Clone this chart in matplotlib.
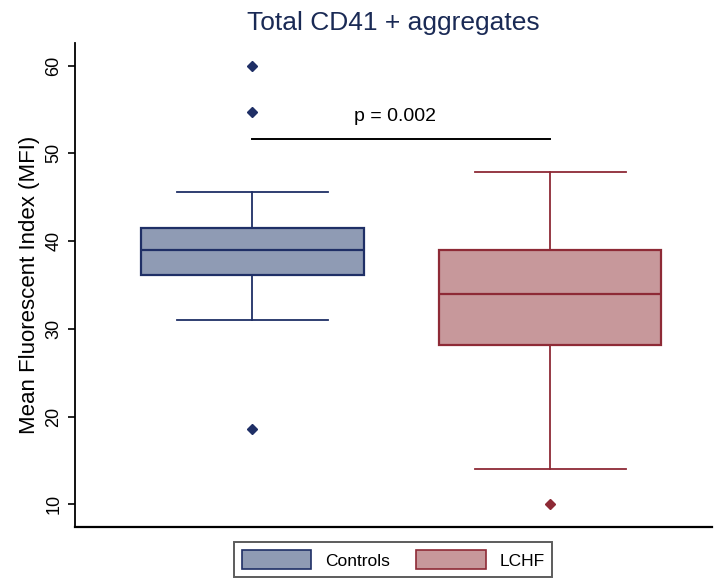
import matplotlib.pyplot as plt
from matplotlib.patches import Patch

# values
groups = ["Controls", "LCHF"]
whisker_low = [31.0, 14.0]
q1 = [36.1, 28.1]
median = [39.0, 34.0]
q3 = [41.5, 39.0]
whisker_high = [45.6, 47.9]
outliers = [[59.9, 54.7, 18.6], [10.0]]
p_text = "p = 0.002"
p_level = 51.6

fills = ["#8f9bb4", "#c7989b"]
edges = ["#1f2f66", "#8e2a36"]

plt.rcParams['font.family'] = ['Liberation Sans', 'DejaVu Sans']

fig = plt.figure(figsize=(7.15, 5.78), dpi=100)
ax = fig.add_axes([0.105, 0.088, 0.891, 0.838])

stats = []
for i, g in enumerate(groups):
    stats.append(dict(label=g, whislo=whisker_low[i], q1=q1[i], med=median[i],
                      q3=q3[i], whishi=whisker_high[i], fliers=outliers[i]))

for i in range(len(groups)):
    ax.bxp([stats[i]], positions=[i], widths=0.748, capwidths=0.507,
           patch_artist=True, showfliers=True,
           boxprops=dict(facecolor=fills[i], edgecolor=edges[i], linewidth=1.6),
           medianprops=dict(color=edges[i], linewidth=1.6),
           whiskerprops=dict(color=edges[i], linewidth=1.3),
           capprops=dict(color=edges[i], linewidth=1.3),
           flierprops=dict(marker='D', markersize=5, markerfacecolor=edges[i],
                           markeredgecolor=edges[i]))

# significance bar
ax.plot([0, 1], [p_level, p_level], color='black', lw=1.4)
ax.text(0.48, p_level + 1.6, p_text, ha='center', va='bottom', fontsize=14)

ax.set_xlim(-0.594, 1.544)
ax.set_ylim(7.4, 62.6)
ax.set_xticks([])
ax.set_yticks([10, 20, 30, 40, 50, 60])
ax.tick_params(axis='y', labelrotation=90, labelsize=13, length=5, width=1.2, pad=4)
for lab in ax.get_yticklabels():
    lab.set_va('center')
ax.set_ylabel("Mean Fluorescent Index (MFI)", fontsize=16, labelpad=4)
ax.spines['top'].set_visible(False)
ax.spines['right'].set_visible(False)
ax.spines['left'].set_linewidth(1.3)
ax.spines['bottom'].set_linewidth(1.6)

ax.set_title("Total CD41 + aggregates", fontsize=19, color='#1a2a55', pad=9)

handles = [Patch(facecolor=fills[i], edgecolor=edges[i], linewidth=1.2, label=groups[i])
           for i in range(len(groups))]
leg = fig.legend(handles=handles, loc='upper center', bbox_to_anchor=(0.55, 0.062),
                 ncol=2, frameon=True, fancybox=False, borderaxespad=0,
                 handlelength=4.0, handleheight=1.35, handletextpad=0.8,
                 columnspacing=1.5, borderpad=0.45, prop={'size': 12.5})
leg.get_frame().set_edgecolor('#333333')
leg.get_frame().set_linewidth(1.4)

fig.savefig("out.png", dpi=100)
